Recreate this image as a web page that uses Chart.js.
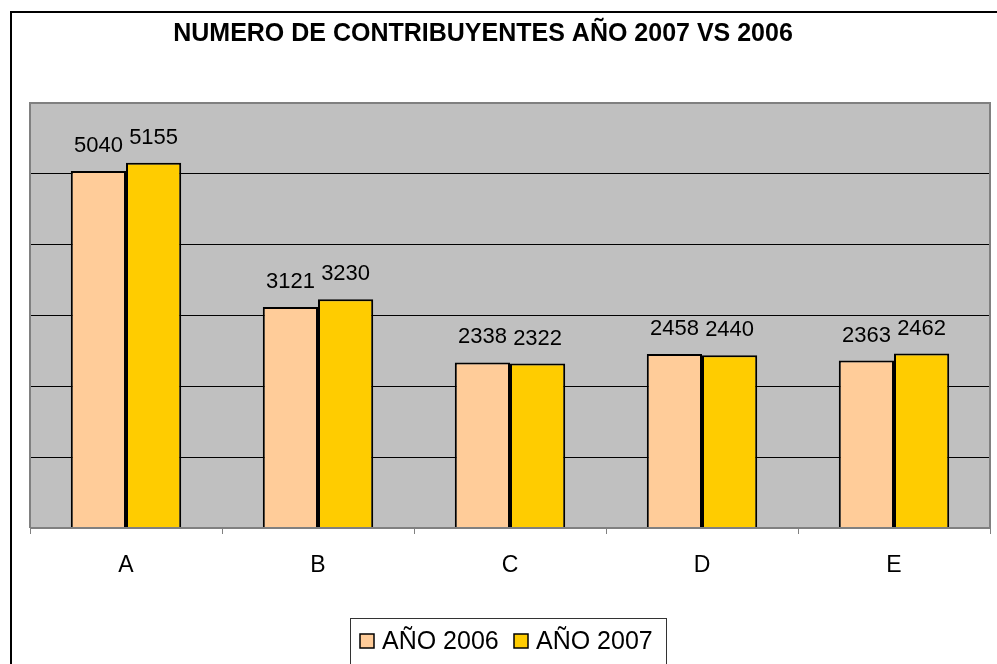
<!DOCTYPE html>
<html>
<head>
<meta charset="utf-8">
<script src="https://cdn.jsdelivr.net/npm/chart.js@4.4.0/dist/chart.umd.min.js"></script>
<style>
  html, body { margin: 0; padding: 0; background: #fff; }
  #wrap { width: 997px; height: 664px; }
</style>
</head>
<body>
<div id="wrap"><canvas id="contribChart" width="997" height="664"></canvas></div>
<script>
// Data
const categories = ['A', 'B', 'C', 'D', 'E'];
const year2006 = [5040, 3121, 2338, 2458, 2363];
const year2007 = [5155, 3230, 2322, 2440, 2462];
const seriesNames = ['AÑO 2006', 'AÑO 2007'];
const chartTitle = 'NUMERO DE CONTRIBUYENTES AÑO 2007 VS 2006';

const FONT = "'Liberation Sans', Arial, sans-serif";

// frame, grey plot background, title and legend box (Excel style)
const excelLook = {
  id: 'excelLook',
  beforeDraw(chart) {
    const { ctx, chartArea: a } = chart;
    ctx.save();
    ctx.fillStyle = '#fff';
    ctx.fillRect(0, 0, chart.width, chart.height);
    // outer frame (left + top only, the rest is cropped)
    ctx.strokeStyle = '#000';
    ctx.lineWidth = 2;
    ctx.beginPath();
    ctx.moveTo(11, chart.height);
    ctx.lineTo(11, 12);
    ctx.lineTo(chart.width, 12);
    ctx.stroke();
    // plot background
    ctx.fillStyle = '#c0c0c0';
    ctx.fillRect(a.left, a.top, a.right - a.left, a.bottom - a.top);
    // title
    ctx.fillStyle = '#000';
    ctx.font = 'bold 25px ' + FONT;
    ctx.textAlign = 'center';
    ctx.textBaseline = 'middle';
    ctx.fillText(chartTitle, 483, 34);
    ctx.restore();
  },
  afterDatasetsDraw(chart) {
    const { ctx, chartArea: a } = chart;
    ctx.save();
    // plot border
    ctx.strokeStyle = '#808080';
    ctx.lineWidth = 2;
    ctx.beginPath();
    ctx.moveTo(a.left, a.bottom);
    ctx.lineTo(a.left, a.top);
    ctx.lineTo(a.right, a.top);
    ctx.lineTo(a.right, a.bottom);
    ctx.stroke();
    ctx.beginPath();
    ctx.moveTo(a.left, a.bottom);
    ctx.lineTo(a.right, a.bottom);
    ctx.stroke();

    // value labels above the bars
    ctx.fillStyle = '#000';
    ctx.font = '22px ' + FONT;
    ctx.textAlign = 'center';
    ctx.textBaseline = 'alphabetic';
    chart.data.datasets.forEach((ds, i) => {
      chart.getDatasetMeta(i).data.forEach((bar, j) => {
        ctx.fillText(String(ds.data[j]), bar.x, bar.y - 19);
      });
    });

    // legend
    const lx = 350, ly = 618, lw = 316, lh = 46;
    ctx.fillStyle = '#fff';
    ctx.fillRect(lx, ly, lw, lh);
    ctx.strokeStyle = '#333';
    ctx.lineWidth = 1;
    ctx.strokeRect(lx + 0.5, ly + 0.5, lw, lh);
    ctx.font = '25px ' + FONT;
    ctx.textAlign = 'left';
    ctx.textBaseline = 'middle';
    const starts = [360, 514];
    chart.data.datasets.forEach((ds, i) => {
      const sx = starts[i];
      ctx.fillStyle = ds.backgroundColor;
      ctx.fillRect(sx, 634, 14, 14);
      ctx.strokeStyle = '#000';
      ctx.lineWidth = 1.5;
      ctx.strokeRect(sx, 634, 14, 14);
      ctx.fillStyle = '#000';
      ctx.fillText(ds.label, sx + 22, 642);
    });
    ctx.restore();
  }
};

const contribCtx = document.getElementById('contribChart').getContext('2d');
new Chart(contribCtx, {
  type: 'bar',
  data: {
    labels: categories,
    datasets: [
      {
        label: seriesNames[0],
        data: year2006,
        backgroundColor: '#FFCC99',
        borderColor: '#000',
        borderWidth: 2,
        categoryPercentage: 0.575,
        barPercentage: 1.0
      },
      {
        label: seriesNames[1],
        data: year2007,
        backgroundColor: '#FFCC00',
        borderColor: '#000',
        borderWidth: 2,
        categoryPercentage: 0.575,
        barPercentage: 1.0
      }
    ]
  },
  options: {
    responsive: false,
    animation: false,
    layout: { padding: { left: 30, right: 7, top: 103, bottom: 0 } },
    scales: {
      x: {
        grid: {
          offset: true,
          drawOnChartArea: false,
          color: '#808080',
          lineWidth: 1,
          tickLength: 6
        },
        border: { display: false },
        ticks: { font: { family: FONT, size: 23 }, color: '#000', padding: 18 },
        afterFit: (axis) => { axis.height = 136; }
      },
      y: {
        min: 0,
        max: 6000,
        ticks: { stepSize: 1000, display: false },
        border: { display: false },
        grid: {
          drawTicks: false,
          color: (c) => (c.tick && (c.tick.value === 0 || c.tick.value === 6000)) ? 'rgba(0,0,0,0)' : '#000',
          lineWidth: 1
        },
        afterFit: (axis) => { axis.width = 0; }
      }
    },
    plugins: {
      legend: { display: false },
      title: { display: false },
      tooltip: { enabled: false }
    }
  },
  plugins: [excelLook]
});
</script>
</body>
</html>
